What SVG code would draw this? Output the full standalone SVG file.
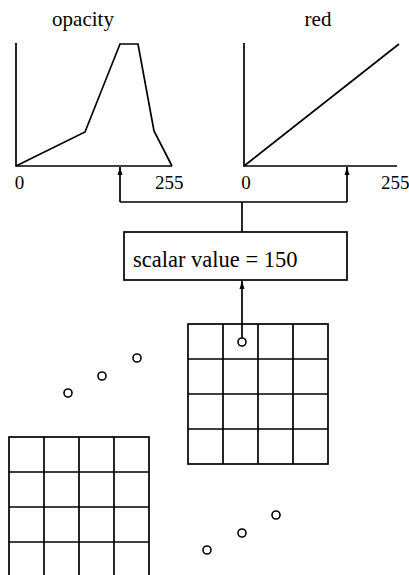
<svg xmlns="http://www.w3.org/2000/svg" width="409" height="575" viewBox="0 0 409 575">
<defs>
<style>
.ln{fill:none;stroke:#000;stroke-width:1.7}
.gr{fill:none;stroke:#000;stroke-width:1.7}
.pt{fill:#fff;stroke:#000;stroke-width:1.6}
.t{font-size:19px}
.h{font-size:21px}
.b{font-size:22.5px}
</style>
<marker id="ah" viewBox="0 0 8 8" refX="8" refY="4" markerWidth="8" markerHeight="8" markerUnits="userSpaceOnUse" orient="auto">
<path d="M0,1.5 L8,4 L0,6.5 Z" fill="#000"/>
</marker>
<g id="grid4">
<rect x="0" y="0" width="140" height="140" class="gr"/>
<path class="gr" d="M35,0V140M70,0V140M105,0V140M0,35H140M0,70H140M0,105H140"/>
</g>
</defs>
<rect width="409" height="575" fill="#fff"/>
<g font-family="'Liberation Serif', 'Times New Roman', serif" fill="#000">
<g id="opacity-plot">
<text class="h" x="83" y="26" text-anchor="middle">opacity</text>
<path class="ln" d="M16,43V166H172"/>
<path class="ln" d="M16,166L85,132L120,44H138L154,131L172,166"/>
<text class="t" x="19.5" y="189" text-anchor="middle">0</text>
<text class="t" x="155" y="189">255</text>
</g>
<g id="red-plot">
<text class="h" x="318" y="26" text-anchor="middle">red</text>
<path class="ln" d="M244,43V166H397"/>
<path class="ln" d="M244,166L399,44"/>
<text class="t" x="246" y="189" text-anchor="middle">0</text>
<text class="t" x="381" y="189">255</text>
</g>
<g id="scalar-box">
<rect x="124" y="232" width="223" height="48" class="ln"/>
<text class="b" x="133" y="267">scalar value = 150</text>
</g>
</g>
<g id="grid-upper">
<use href="#grid4" x="188" y="324"/>
<circle cx="242" cy="342" r="4" class="pt"/>
</g>
<g id="grid-lower">
<use href="#grid4" x="9" y="437"/>
</g>
<g id="points">
<circle cx="68" cy="393" r="4" class="pt"/>
<circle cx="102" cy="376" r="4" class="pt"/>
<circle cx="137" cy="358" r="4" class="pt"/>
<circle cx="207" cy="550" r="4" class="pt"/>
<circle cx="242" cy="533" r="4" class="pt"/>
<circle cx="276" cy="515" r="4" class="pt"/>
</g>
<g id="connectors">
<path class="ln" d="M242,232V202M120,202H347"/>
<path class="ln" d="M120,202V167" marker-end="url(#ah)"/>
<path class="ln" d="M347,202V167" marker-end="url(#ah)"/>
<path class="ln" d="M242,338V281" marker-end="url(#ah)"/>
</g>
</svg>
